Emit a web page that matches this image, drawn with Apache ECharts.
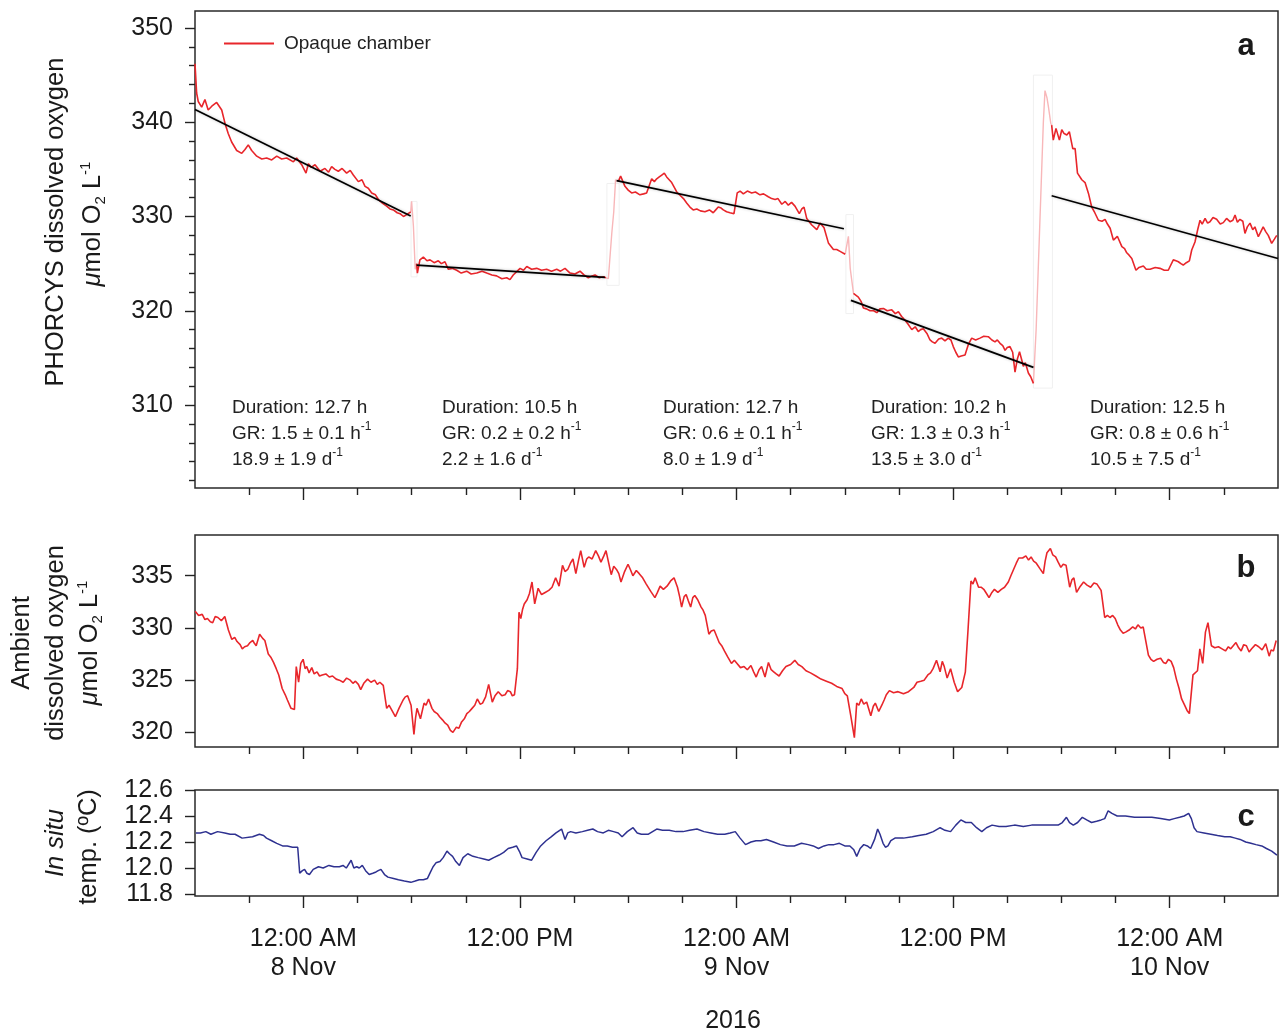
<!DOCTYPE html>
<html><head><meta charset="utf-8">
<script src="https://cdn.jsdelivr.net/npm/echarts@6/dist/echarts.min.js"></script>
<style>html,body{margin:0;padding:0;background:#fff}#c{width:1279px;height:1034px}</style>
</head><body><div id="c"></div>
<script>
// ---- time axis: hours relative to 8 Nov 2016 00:00 ----
const xMin = -6, xMax = 54;
const xMajorTicks = [0, 12, 24, 36, 48];
const xMajorLabels = ['12:00 AM\n8 Nov', '12:00 PM', '12:00 AM\n9 Nov', '12:00 PM', '12:00 AM\n10 Nov'];
const xMinorTicks = [-3, 3, 6, 9, 15, 18, 21, 27, 30, 33, 39, 42, 45, 51];

// ---- panel a: PHORCYS opaque chamber dissolved oxygen (µmol O2 L-1) ----
const yTicksA = [310, 320, 330, 340, 350];
const yMinorA = [302,304,306,308,312,314,316,318,322,324,326,328,332,334,336,338,342,344,346,348];
const chamberSeg1 = [[-6.00,346.2],[-5.91,343.1],[-5.82,342.2],[-5.63,341.6],[-5.45,342.4],[-5.27,341.3],[-5.07,341.7],[-4.80,342.1],[-4.52,341.3],[-4.34,339.9],[-4.16,338.8],[-3.97,337.9],[-3.69,337.0],[-3.41,336.7],[-3.23,337.1],[-3.05,337.6],[-2.86,337.0],[-2.58,336.4],[-2.30,336.1],[-2.03,336.2],[-1.75,336.0],[-1.47,336.4],[-1.20,336.1],[-0.92,336.2],[-0.55,335.8],[-0.37,336.2],[-0.09,335.5],[0.15,334.6],[0.28,335.6],[0.45,335.2],[0.65,335.5],[0.93,334.8],[1.20,335.1],[1.40,334.7],[1.57,335.3],[1.75,335.0],[1.94,334.8],[2.15,335.1],[2.40,334.6],[2.60,334.9],[2.77,334.4],[3.05,333.7],[3.25,333.9],[3.42,333.2],[3.60,333.0],[3.79,332.5],[4.00,332.3],[4.16,331.8],[4.40,331.4],[4.62,331.1],[4.80,330.8],[4.99,330.7],[5.20,330.4],[5.36,330.3],[5.55,330.0],[5.73,330.2],[5.95,330.5]];
const chamberSeg2 = [[6.28,325.0],[6.32,324.0],[6.46,325.4],[6.65,325.7],[6.85,325.3],[7.02,325.4],[7.25,325.1],[7.48,325.3],[7.65,325.0],[7.85,325.2],[8.03,324.4],[8.25,324.5],[8.50,324.3],[8.75,324.0],[9.05,324.2],[9.30,323.9],[9.61,324.0],[9.90,324.2],[10.16,324.0],[10.45,323.8],[10.71,323.7],[11.00,323.4],[11.27,323.5],[11.45,323.3],[11.63,323.8],[12.01,324.5],[12.20,324.3],[12.38,324.7],[12.65,324.4],[12.93,324.5],[13.20,324.3],[13.48,324.4],[13.75,324.2],[14.04,324.4],[14.25,324.2],[14.50,324.5],[14.78,324.0],[15.05,323.9],[15.33,324.2],[15.55,323.8],[15.79,323.5],[16.00,323.7],[16.16,323.8],[16.40,323.5],[16.62,323.6],[16.77,323.5]];
const chamberSeg3 = [[17.45,333.7],[17.58,334.3],[17.82,333.2],[18.00,332.8],[18.19,332.5],[18.40,332.6],[18.65,332.3],[18.85,332.4],[19.02,332.5],[19.30,334.0],[19.45,333.7],[19.58,334.0],[19.72,334.2],[19.86,334.4],[20.00,334.6],[20.13,334.2],[20.41,333.6],[20.69,332.6],[20.90,332.2],[21.06,331.9],[21.25,331.4],[21.42,331.0],[21.60,330.7],[21.80,330.8],[22.00,330.6],[22.25,330.5],[22.50,330.7],[22.71,330.4],[22.85,330.7],[22.99,331.0],[23.15,330.9],[23.27,330.7],[23.45,330.5],[23.64,330.4],[23.86,330.3],[24.04,332.5],[24.20,332.7],[24.38,332.4],[24.60,332.7],[24.84,332.5],[25.05,332.6],[25.30,332.3],[25.50,332.4],[25.76,332.1],[25.95,331.9],[26.14,331.8],[26.30,331.9],[26.51,331.3],[26.70,331.6],[26.87,331.2],[27.05,331.5],[27.24,331.1],[27.48,330.3],[27.62,330.8],[27.74,331.0],[27.89,329.8],[28.17,329.1],[28.45,328.6],[28.63,329.3],[28.85,328.8],[29.09,327.2],[29.37,326.5],[29.55,326.5],[29.74,326.3],[30.02,326.0]];
const chamberSeg4 = [[30.48,321.85],[30.57,321.7],[30.75,321.45],[30.90,321.0],[31.03,320.3],[31.20,320.2],[31.40,320.0],[31.60,320.0],[31.77,319.8],[31.95,320.2],[32.14,320.25],[32.35,320.0],[32.60,320.1],[32.80,319.7],[32.97,319.9],[33.15,319.4],[33.34,319.0],[33.50,318.6],[33.71,318.0],[33.90,318.3],[34.07,317.8],[34.20,318.0],[34.35,318.1],[34.55,317.6],[34.72,316.9],[34.85,316.7],[35.00,316.55],[35.20,317.0],[35.37,317.1],[35.55,316.8],[35.73,317.1],[35.88,316.9],[36.01,316.2],[36.15,315.6],[36.29,315.1],[36.45,315.2],[36.66,315.3],[36.84,316.4],[37.03,317.1],[37.25,316.9],[37.49,317.1],[37.70,317.3],[37.95,317.25],[38.15,316.9],[38.32,316.7],[38.45,316.9],[38.60,316.55],[38.75,316.3],[38.88,315.8],[39.00,316.1],[39.15,316.2],[39.30,315.6],[39.43,313.5],[39.55,314.8],[39.68,315.65],[39.80,314.8],[39.89,314.1],[40.00,314.5],[40.17,313.4],[40.30,313.0],[40.45,312.3]];
const chamberSeg5 = [[41.46,339.7],[41.55,338.1],[41.70,339.35],[41.89,338.1],[42.02,339.2],[42.15,338.8],[42.30,338.65],[42.44,339.0],[42.63,337.2],[42.76,337.2],[42.89,334.6],[43.00,334.4],[43.13,333.9],[43.31,333.6],[43.50,332.45],[43.68,331.0],[43.85,330.4],[44.05,329.6],[44.25,329.5],[44.42,329.7],[44.55,329.2],[44.70,328.75],[44.88,327.5],[45.10,327.9],[45.35,326.8],[45.50,326.6],[45.62,326.15],[45.75,325.9],[45.90,325.55],[46.13,324.3],[46.30,324.6],[46.54,324.75],[46.70,324.4],[46.91,324.4],[47.20,324.6],[47.46,324.5],[47.70,324.3],[47.92,324.3],[48.20,325.4],[48.35,325.3],[48.48,325.2],[48.62,325.0],[48.75,324.85],[48.92,325.1],[49.09,325.3],[49.22,326.45],[49.40,327.3],[49.55,328.6],[49.68,329.6],[49.80,329.2],[49.96,329.8],[50.10,329.3],[50.23,329.45],[50.40,329.9],[50.60,329.7],[50.80,329.2],[50.97,329.35],[51.15,329.8],[51.34,329.45],[51.50,329.6],[51.62,330.15],[51.75,329.4],[51.89,329.7],[52.05,329.5],[52.17,328.2],[52.30,328.9],[52.45,329.3],[52.60,328.6],[52.72,328.9],[52.91,327.85],[53.05,328.4],[53.18,328.9],[53.32,328.4],[53.46,328.0],[53.65,327.15],[53.80,327.6],[53.93,328.0]];
// chamber flushing transitions (drawn pale)
const flush1 = [[5.95,330.5],[6.00,331.6],[6.10,329.0],[6.20,324.4],[6.28,325.0]];
const flush2 = [[16.77,323.5],[16.90,323.4],[17.09,328.2],[17.20,330.5],[17.30,333.9],[17.45,333.7]];
const flush3 = [[30.02,326.0],[30.20,327.9],[30.30,324.5],[30.48,321.85]];
const flush4 = [[40.45,312.3],[40.60,318.0],[41.00,340.0],[41.09,343.35],[41.20,342.6],[41.28,341.65],[41.41,339.9],[41.46,339.7]];
// [x1, y1, x2, y2] of the faint boxes around flushing periods
const flushBoxes = [[5.97,331.6,6.30,323.6],[16.82,333.5,17.50,322.7],[30.06,330.2,30.48,319.7],[40.45,345.0,41.50,311.8]];
// linear fits
const fit1 = [[-6.00,341.35],[5.95,330.05]];
const fit2 = [[6.28,324.85],[16.71,323.55]];
const fit3 = [[17.36,333.8],[29.95,328.7]];
const fit4 = [[30.34,321.1],[40.45,314.0]];
const fit5 = [[41.46,332.2],[54.00,325.55]];
// annotation values
const durations = ['12.7', '10.5', '12.7', '10.2', '12.5'];
const grPerHour = ['1.5 ± 0.1', '0.2 ± 0.2', '0.6 ± 0.1', '1.3 ± 0.3', '0.8 ± 0.6'];
const grPerDay = ['18.9 ± 1.9', '2.2 ± 1.6', '8.0 ± 1.9', '13.5 ± 3.0', '10.5 ± 7.5'];

// ---- panel b: ambient dissolved oxygen ----
const yTicksB = [320, 325, 330, 335];
const ambientO2 = [[-5.99,331.6],[-5.80,331.2],[-5.60,331.3],[-5.45,330.8],[-5.31,330.9],[-5.15,330.6],[-5.02,330.5],[-4.88,331.1],[-4.73,331.0],[-4.54,330.7],[-4.35,331.1],[-4.15,329.8],[-3.96,328.9],[-3.80,329.1],[-3.67,328.7],[-3.50,328.4],[-3.38,328.0],[-3.25,328.2],[-3.09,328.3],[-2.95,328.6],[-2.80,328.8],[-2.70,328.5],[-2.61,328.3],[-2.42,329.4],[-2.25,329.0],[-2.13,328.8],[-1.94,327.5],[-1.80,327.2],[-1.65,326.7],[-1.50,326.1],[-1.36,325.5],[-1.17,324.2],[-1.00,323.6],[-0.88,323.1],[-0.68,322.3],[-0.49,322.2],[-0.39,326.3],[-0.26,324.8],[-0.14,326.6],[-0.01,327.0],[0.10,326.1],[0.19,326.3],[0.32,325.7],[0.47,326.2],[0.60,325.6],[0.76,325.8],[0.90,325.4],[1.05,325.5],[1.25,325.6],[1.44,325.3],[1.62,325.4],[1.82,325.1],[2.00,325.0],[2.21,324.8],[2.40,325.2],[2.60,325.0],[2.75,324.7],[2.89,324.9],[3.05,324.6],[3.18,324.1],[3.35,324.7],[3.56,325.1],[3.75,324.8],[3.95,325.0],[4.10,324.6],[4.24,324.8],[4.43,324.5],[4.62,322.3],[4.75,322.6],[4.91,322.1],[5.10,321.5],[5.30,322.3],[5.53,323.1],[5.65,323.4],[5.78,323.5],[5.97,322.6],[6.13,319.8],[6.22,321.4],[6.30,322.3],[6.49,321.3],[6.69,322.8],[6.80,322.6],[6.94,323.2],[7.13,322.3],[7.25,322.0],[7.42,321.8],[7.55,321.5],[7.71,321.2],[7.85,320.9],[8.00,320.7],[8.15,320.2],[8.29,320.0],[8.48,320.5],[8.62,320.4],[8.77,321.0],[8.92,321.3],[9.06,321.8],[9.20,322.0],[9.35,322.3],[9.50,322.6],[9.64,323.2],[9.80,322.7],[9.93,322.8],[10.10,323.4],[10.27,324.6],[10.47,322.9],[10.62,323.5],[10.80,323.9],[11.00,323.5],[11.18,323.6],[11.32,324.0],[11.47,323.9],[11.58,323.5],[11.70,323.6],[11.86,326.1],[11.95,331.5],[12.05,330.9],[12.15,331.8],[12.24,332.3],[12.40,332.7],[12.53,333.3],[12.67,334.4],[12.82,332.3],[13.01,333.8],[13.20,333.2],[13.40,333.4],[13.60,333.6],[13.78,333.9],[13.98,334.8],[14.17,334.0],[14.36,336.0],[14.50,335.4],[14.65,335.6],[14.80,336.2],[14.94,336.6],[15.10,335.2],[15.25,336.5],[15.37,337.4],[15.56,335.8],[15.70,336.6],[15.81,336.8],[16.00,336.6],[16.20,337.4],[16.35,336.9],[16.49,336.3],[16.65,336.9],[16.77,337.4],[16.92,336.2],[17.06,335.1],[17.20,335.9],[17.35,335.6],[17.48,335.2],[17.60,334.4],[17.80,335.4],[17.99,336.1],[18.12,335.6],[18.26,335.0],[18.45,335.5],[18.61,335.2],[18.80,334.8],[19.00,334.2],[19.25,333.5],[19.48,332.9],[19.62,333.4],[19.77,334.0],[19.95,333.7],[20.15,334.0],[20.35,334.5],[20.54,334.8],[20.73,333.9],[20.85,333.0],[20.96,332.0],[21.10,333.0],[21.21,333.2],[21.33,332.6],[21.46,332.0],[21.58,332.9],[21.69,333.1],[21.85,332.7],[22.04,332.0],[22.15,331.7],[22.27,331.2],[22.47,329.4],[22.60,329.7],[22.76,329.8],[22.90,329.2],[23.04,328.6],[23.18,328.3],[23.33,327.8],[23.52,327.2],[23.72,326.6],[23.88,326.9],[24.03,326.6],[24.22,326.2],[24.42,326.3],[24.60,326.0],[24.80,326.4],[24.95,325.8],[25.09,325.3],[25.25,326.0],[25.39,326.3],[25.58,325.3],[25.77,326.7],[25.92,326.0],[26.06,325.8],[26.20,325.6],[26.36,325.4],[26.55,325.9],[26.74,326.3],[27.00,326.5],[27.23,326.9],[27.42,326.5],[27.62,326.3],[27.85,325.9],[28.10,325.7],[28.40,325.4],[28.68,325.1],[28.98,324.9],[29.27,324.7],[29.55,324.4],[29.85,324.2],[30.00,323.7],[30.14,323.5],[30.33,321.6],[30.53,319.5],[30.66,322.8],[30.78,322.6],[30.91,323.2],[31.05,322.7],[31.21,322.9],[31.44,321.6],[31.58,322.5],[31.69,322.8],[31.88,322.0],[32.05,322.6],[32.18,323.1],[32.30,323.6],[32.47,324.0],[32.70,323.8],[32.95,323.9],[33.25,323.7],[33.53,323.9],[33.82,324.3],[34.00,324.8],[34.21,324.9],[34.40,325.0],[34.60,325.5],[34.75,325.7],[34.89,326.1],[35.08,326.9],[35.28,325.8],[35.40,326.8],[35.51,326.3],[35.67,325.2],[35.86,326.1],[36.06,324.8],[36.25,323.9],[36.48,324.3],[36.68,325.8],[36.83,329.9],[36.99,334.5],[37.10,334.2],[37.22,334.8],[37.41,333.9],[37.55,333.9],[37.70,333.7],[37.85,333.3],[37.99,332.9],[38.15,333.4],[38.29,333.7],[38.48,333.4],[38.67,333.7],[38.85,333.9],[39.06,334.4],[39.20,335.0],[39.35,335.6],[39.50,336.2],[39.64,336.7],[39.85,336.7],[40.03,336.9],[40.18,336.5],[40.32,336.8],[40.46,336.4],[40.61,336.2],[40.80,335.7],[41.00,335.2],[41.10,336.4],[41.20,337.2],[41.39,337.6],[41.52,337.0],[41.68,336.8],[41.82,336.3],[41.97,335.8],[42.10,336.1],[42.26,336.0],[42.46,333.9],[42.58,334.6],[42.69,334.8],[42.84,333.4],[43.05,334.0],[43.23,334.4],[43.42,334.1],[43.62,333.9],[43.80,334.3],[43.97,334.2],[44.20,333.6],[44.40,331.0],[44.55,331.2],[44.69,331.0],[44.84,331.2],[44.98,330.9],[45.12,330.3],[45.27,329.8],[45.42,329.5],[45.56,329.6],[45.75,329.8],[45.95,330.1],[46.10,329.9],[46.24,330.3],[46.40,330.0],[46.53,330.1],[46.82,327.4],[46.96,327.0],[47.11,326.8],[47.30,327.0],[47.50,327.1],[47.65,326.7],[47.79,326.6],[47.93,327.0],[48.08,326.8],[48.22,326.2],[48.37,325.1],[48.52,324.2],[48.66,323.2],[48.80,322.7],[48.96,322.1],[49.09,321.8],[49.29,325.5],[49.40,325.4],[49.54,325.9],[49.67,328.0],[49.83,326.6],[49.98,329.6],[50.12,330.5],[50.31,328.3],[50.50,328.1],[50.70,328.2],[50.90,328.0],[51.09,327.8],[51.25,328.2],[51.38,328.0],[51.52,328.3],[51.67,328.6],[51.82,328.1],[51.96,327.8],[52.10,328.4],[52.25,328.3],[52.40,327.7],[52.54,328.0],[52.75,328.4],[52.93,328.2],[53.12,327.9],[53.32,328.5],[53.51,327.3],[53.62,327.9],[53.75,327.8],[53.90,328.8]];

// ---- panel c: in situ temperature (°C) ----
const yTicksC = [11.8, 12.0, 12.2, 12.4, 12.6];
const tempC = [[-5.95,12.27],[-5.70,12.27],[-5.40,12.28],[-5.12,12.26],[-4.75,12.28],[-4.35,12.27],[-4.05,12.26],[-3.78,12.26],[-3.39,12.23],[-2.81,12.24],[-2.43,12.26],[-2.20,12.25],[-2.04,12.23],[-1.75,12.21],[-1.47,12.19],[-1.15,12.17],[-0.89,12.17],[-0.60,12.16],[-0.31,12.16],[-0.20,11.96],[-0.05,11.98],[0.07,11.99],[0.20,11.96],[0.34,11.95],[0.55,11.99],[0.84,12.01],[1.10,12.00],[1.42,12.02],[1.70,12.01],[2.00,12.01],[2.20,12.02],[2.38,12.00],[2.65,12.06],[2.80,12.00],[2.96,12.01],[3.10,12.00],[3.27,12.02],[3.45,11.98],[3.65,11.95],[3.85,11.96],[4.03,11.97],[4.15,11.98],[4.30,11.99],[4.50,11.95],[4.69,11.93],[5.00,11.92],[5.27,11.91],[5.60,11.90],[5.96,11.89],[6.20,11.90],[6.42,11.91],[6.65,11.91],[6.88,11.92],[7.05,11.97],[7.19,12.01],[7.35,12.04],[7.57,12.05],[7.75,12.08],[7.96,12.13],[8.10,12.11],[8.27,12.09],[8.45,12.05],[8.65,12.02],[8.85,12.08],[9.11,12.11],[9.40,12.09],[9.69,12.08],[10.00,12.07],[10.27,12.06],[10.55,12.08],[10.85,12.10],[11.10,12.12],[11.35,12.15],[11.60,12.16],[11.81,12.17],[12.00,12.12],[12.12,12.08],[12.40,12.07],[12.65,12.06],[12.90,12.12],[13.15,12.17],[13.45,12.21],[13.73,12.24],[14.00,12.27],[14.31,12.30],[14.50,12.22],[14.65,12.27],[14.81,12.28],[15.10,12.27],[15.46,12.28],[15.75,12.29],[16.04,12.30],[16.30,12.28],[16.62,12.27],[16.90,12.29],[17.19,12.28],[17.45,12.27],[17.66,12.24],[17.95,12.28],[18.27,12.31],[18.50,12.27],[18.73,12.26],[19.12,12.26],[19.35,12.28],[19.58,12.30],[19.90,12.29],[20.27,12.29],[20.65,12.28],[21.04,12.28],[21.40,12.29],[21.81,12.30],[22.20,12.28],[22.58,12.27],[22.95,12.26],[23.35,12.26],[23.65,12.27],[23.93,12.28],[24.20,12.23],[24.50,12.18],[24.80,12.20],[25.08,12.21],[25.35,12.21],[25.66,12.22],[26.05,12.20],[26.43,12.18],[26.80,12.17],[27.20,12.17],[27.60,12.19],[27.97,12.18],[28.25,12.17],[28.54,12.15],[28.85,12.17],[29.12,12.18],[29.40,12.18],[29.70,12.19],[30.00,12.17],[30.28,12.17],[30.50,12.14],[30.66,12.09],[30.85,12.15],[31.05,12.18],[31.25,12.17],[31.43,12.15],[31.65,12.22],[31.82,12.30],[31.95,12.26],[32.12,12.19],[32.25,12.16],[32.39,12.17],[32.55,12.21],[32.78,12.23],[33.25,12.23],[33.74,12.24],[34.10,12.25],[34.51,12.26],[34.90,12.28],[35.28,12.31],[35.55,12.29],[35.86,12.28],[36.15,12.33],[36.43,12.37],[36.70,12.35],[37.01,12.35],[37.30,12.31],[37.59,12.28],[37.85,12.31],[38.16,12.33],[38.55,12.32],[38.93,12.32],[39.40,12.33],[39.89,12.32],[40.35,12.33],[40.86,12.33],[41.35,12.33],[41.82,12.33],[42.05,12.35],[42.28,12.39],[42.45,12.35],[42.66,12.33],[42.90,12.35],[43.16,12.39],[43.40,12.37],[43.67,12.35],[43.95,12.36],[44.20,12.37],[44.40,12.38],[44.59,12.44],[44.80,12.42],[45.09,12.40],[45.55,12.40],[46.05,12.39],[46.55,12.39],[47.01,12.39],[47.50,12.38],[47.98,12.37],[48.25,12.38],[48.55,12.39],[48.80,12.40],[49.05,12.42],[49.20,12.38],[49.35,12.31],[49.51,12.28],[49.90,12.27],[50.28,12.26],[50.65,12.25],[51.05,12.24],[51.35,12.24],[51.63,12.23],[51.90,12.22],[52.21,12.20],[52.50,12.19],[52.78,12.18],[53.10,12.17],[53.36,12.15],[53.65,12.13],[53.94,12.10]];

// ---------------- chart ----------------
const FONT = "'Liberation Sans', Arial, Helvetica, sans-serif";
const INK = '#1a1a1a';
const RED = '#e8262b';
const PINK = '#f8b7b9';
const NAVY = '#2e3190';
const tickStyle = {color: '#222', width: 1.4};

const panels = [
  {top: 11, height: 477, min: 301.2, max: 351.8, ticks: yTicksA, minor: yMinorA, dec: 0},
  {top: 535, height: 212, min: 318.6, max: 338.9, ticks: yTicksB, minor: [], dec: 0},
  {top: 790, height: 106, min: 11.785, max: 12.6, ticks: yTicksC, minor: [], dec: 1}
];

const grid = [], xAxis = [], yAxis = [];
const noLine = {show: false, onZero: false};
panels.forEach((p, i) => {
  grid.push({left: 195, top: p.top, width: 1083, height: p.height, show: true,
    borderColor: '#2a2a2a', borderWidth: 1.5, backgroundColor: 'transparent', containLabel: false});
  grid.push({left: 195, top: p.top, width: 1083, height: p.height, show: false});
  const showX = i === 2;
  xAxis.push({type: 'value', gridIndex: 2 * i, min: xMin, max: xMax, position: 'bottom',
    axisLine: noLine, splitLine: {show: false},
    axisTick: {show: true, customValues: xMajorTicks, length: 12, lineStyle: tickStyle},
    axisLabel: {show: showX, customValues: xMajorTicks, margin: 29, fontSize: 25, lineHeight: 29,
      fontFamily: FONT, color: INK,
      formatter: v => { const k = xMajorTicks.indexOf(Math.round(v)); return k >= 0 && Math.abs(v - xMajorTicks[k]) < 1e-6 ? xMajorLabels[k] : ''; }}
  });
  xAxis.push({type: 'value', gridIndex: 2 * i + 1, min: xMin, max: xMax, position: 'bottom',
    axisLine: noLine, splitLine: {show: false}, axisLabel: {show: false},
    axisTick: {show: true, customValues: xMinorTicks, length: 7, lineStyle: tickStyle}
  });
  yAxis.push({type: 'value', gridIndex: 2 * i, min: p.min, max: p.max, position: 'left',
    axisLine: noLine, splitLine: {show: false},
    axisTick: {show: true, customValues: p.ticks, length: 10, lineStyle: tickStyle},
    axisLabel: {show: true, customValues: p.ticks, margin: 22, fontSize: 25, fontFamily: FONT, color: INK,
      formatter: v => p.ticks.some(t => Math.abs(t - v) < 1e-6) ? v.toFixed(p.dec) : ''}
  });
  yAxis.push({type: 'value', gridIndex: 2 * i + 1, min: p.min, max: p.max, position: 'left',
    axisLine: noLine, splitLine: {show: false}, axisLabel: {show: false},
    axisTick: {show: p.minor.length > 0, customValues: p.minor.length ? p.minor : [p.min], length: 6, lineStyle: tickStyle}
  });
});

function lineSeries(name, data, color, width, gi, z, extra) {
  return Object.assign({name, type: 'line', data, xAxisIndex: gi, yAxisIndex: gi,
    showSymbol: false, symbol: 'none', animation: false, silent: true, z,
    lineStyle: {color, width}, itemStyle: {color}}, extra || {});
}

const series = [];
[flush1, flush2, flush3, flush4].forEach((d, k) => {
  const extra = {};
  if (k === 0) {
    extra.markArea = {silent: true, itemStyle: {color: 'rgba(0,0,0,0)', borderColor: '#f0f0f0', borderWidth: 1},
      data: flushBoxes.map(b => [{coord: [b[0], b[1]]}, {coord: [b[2], b[3]]}])};
  }
  series.push(lineSeries('flush' + k, d, PINK, 1.4, 0, 1, extra));
});
[chamberSeg1, chamberSeg2, chamberSeg3, chamberSeg4, chamberSeg5].forEach(d =>
  series.push(lineSeries('Opaque chamber', d, RED, 1.6, 0, 2)));
[fit1, fit2, fit3, fit4, fit5].forEach((d, k) =>
  series.push(lineSeries('fit' + k, d, '#000', 1.7, 0, 3,
    {lineStyle: {color: '#000', width: 1.7, shadowColor: 'rgba(0,0,0,0.25)', shadowBlur: 3}})));
series.push(lineSeries('Ambient', ambientO2, RED, 1.6, 2, 2));
series.push(lineSeries('Temperature', tempC, NAVY, 1.5, 4, 2));

// ---------- text graphics ----------
const richBase = {
  n: {fontSize: 25.5, lineHeight: 30, fontFamily: FONT, fill: INK},
  i: {fontSize: 25.5, lineHeight: 30, fontFamily: FONT, fontStyle: 'italic', fill: INK},
  sub: {fontSize: 15, lineHeight: 14, fontFamily: FONT, fill: INK, verticalAlign: 'bottom'},
  sup: {fontSize: 15, lineHeight: 14, fontFamily: FONT, fill: INK, verticalAlign: 'top'}
};
function vtext(x, y, text) {
  return {type: 'text', x, y, rotation: Math.PI / 2, z: 20, silent: true,
    style: {text, rich: richBase, align: 'center', verticalAlign: 'middle', textAlign: 'center', textVerticalAlign: 'middle'}};
}
const unitLine = '{i|μ}{n|mol O}{sub|2}{n| L}{sup|-1}';
const graphic = [
  vtext(56, 222, '{n|PHORCYS dissolved oxygen}'),
  vtext(93, 224, unitLine),
  vtext(22, 643, '{n|Ambient}'),
  vtext(56, 643, '{n|dissolved oxygen}'),
  vtext(90, 643, unitLine),
  vtext(56, 843, '{i|In situ}'),
  vtext(89, 847, '{n|temp. (ºC)}')
];
const annotX = [232, 442, 663, 871, 1090];
const richAnn = {
  a: {fontSize: 19, lineHeight: 26, fontFamily: FONT, fill: '#222'},
  s: {fontSize: 12, lineHeight: 12, fontFamily: FONT, fill: '#222', verticalAlign: 'top'}
};
annotX.forEach((x, k) => {
  graphic.push({type: 'text', x, y: 395, z: 20, silent: true,
    style: {text: '{a|Duration: ' + durations[k] + ' h}\n{a|GR: ' + grPerHour[k] + ' h}{s|-1}\n{a|' + grPerDay[k] + ' d}{s|-1}',
      rich: richAnn, align: 'left', verticalAlign: 'top', textAlign: 'left', textVerticalAlign: 'top'}});
});
[['a', 46], ['b', 568], ['c', 817]].forEach(([t, y]) => {
  graphic.push({type: 'text', x: 1246, y, z: 20, silent: true,
    style: {text: t, fontSize: 31, fontWeight: 'bold', fontFamily: FONT, fill: INK,
      align: 'center', verticalAlign: 'middle', textAlign: 'center', textVerticalAlign: 'middle'}});
});
graphic.push({type: 'text', x: 733, y: 1021, z: 20, silent: true,
  style: {text: '2016', fontSize: 25, fontFamily: FONT, fill: INK,
    align: 'center', verticalAlign: 'middle', textAlign: 'center', textVerticalAlign: 'middle'}});

const chart = echarts.init(document.getElementById('c'), null, {renderer: 'canvas', width: 1279, height: 1034});
chart.setOption({
  animation: false,
  backgroundColor: '#ffffff',
  grid, xAxis, yAxis, series, graphic,
  legend: {data: ['Opaque chamber'], left: 219, top: 29, icon: 'rect', itemWidth: 50, itemHeight: 2,
    selectedMode: false, textStyle: {fontSize: 19, fontFamily: FONT, color: '#222', padding: [0, 0, 0, 5]}}
});
</script></body></html>
